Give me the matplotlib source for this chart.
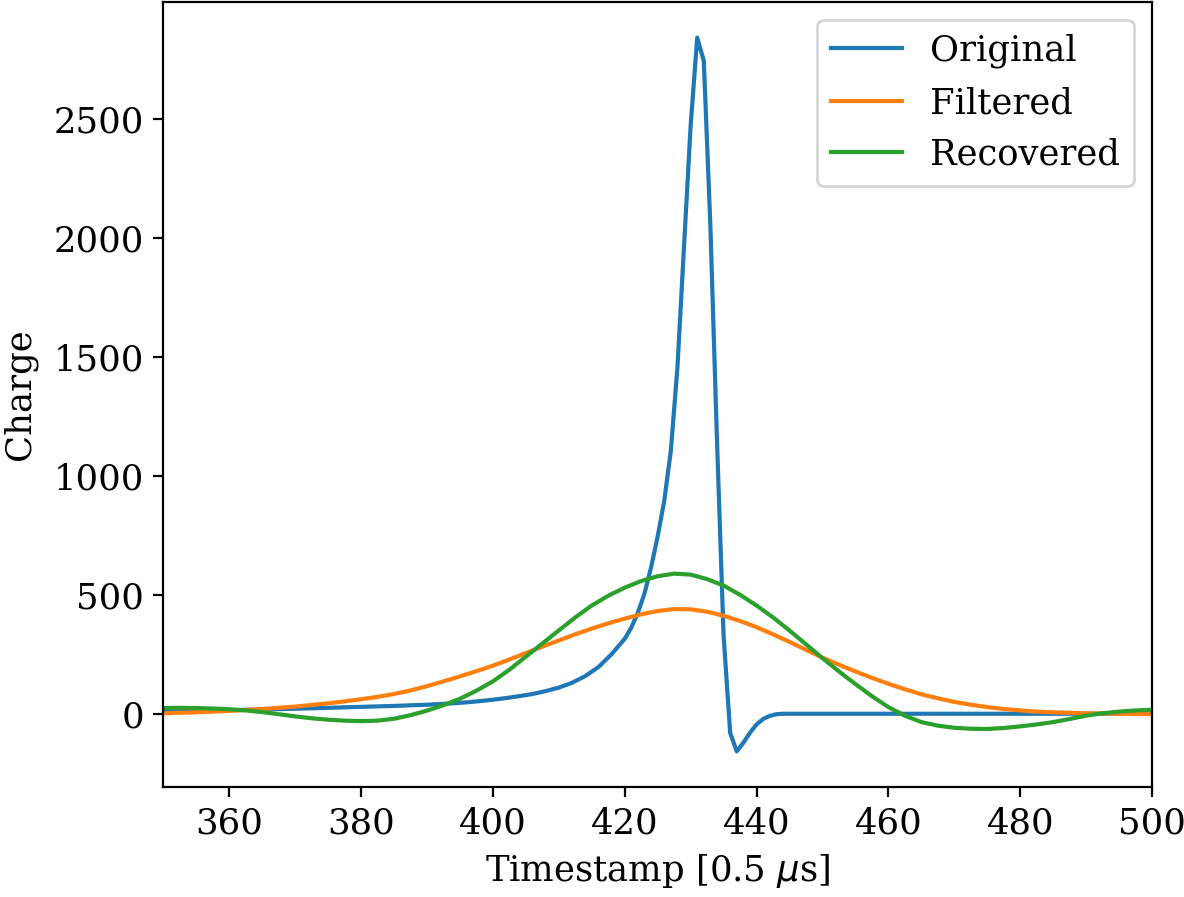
import matplotlib
matplotlib.use("Agg")
import matplotlib.pyplot as plt

plt.rcParams['font.family'] = ['DejaVu Serif']
plt.rcParams['font.size'] = 12.75

# Original waveform
orig_t = [350, 355, 360, 365, 370, 375, 380, 385, 390, 394, 396, 398, 400,
          402, 404, 406, 408, 410, 412, 414, 416, 418, 420, 421, 422, 423,
          424, 425, 426, 427, 428, 429, 430, 431, 432, 433, 434, 435, 436,
          437, 438, 439, 440, 441, 442, 443, 444, 445, 450, 460, 480, 500]
orig_q = [10, 12, 15, 18, 21, 25, 29, 33, 38, 44, 48, 53, 59,
          66, 74, 83, 95, 110, 130, 158, 196, 250, 315, 362, 425, 505,
          615, 745, 895, 1105, 1455, 1965, 2470, 2842, 2745, 2050, 1150, 330, -80,
          -158, -122, -80, -45, -22, -9, -2, 0, 0, 0, 0, 0, 0]

# Filtered waveform
filt_t = [350, 352.5, 355, 357.5, 360, 362.5, 365, 367.5, 370, 372.5, 375,
          377.5, 380, 382.5, 385, 387.5, 390, 392.5, 395, 397.5, 400, 402.5,
          405, 407.5, 410, 412.5, 415, 417.5, 420, 422.5, 425, 427.5, 430,
          432.5, 435, 437.5, 440, 442.5, 445, 447.5, 450, 452.5, 455, 457.5,
          460, 462.5, 465, 467.5, 470, 472.5, 475, 477.5, 480, 482.5, 485,
          487.5, 490, 492.5, 495, 497.5, 500]
filt_q = [2, 4, 6, 9, 12, 16, 20, 25, 30, 37, 44,
          52, 61, 71, 83, 98, 116, 136, 157, 179, 202, 228,
          255, 282, 308, 334, 358, 380, 400, 418, 432, 440, 439,
          429, 412, 390, 364, 334, 302, 269, 236, 206, 178, 151,
          126, 103, 82, 65, 50, 38, 28, 20, 14, 9, 6,
          4, 2, 1, 0, -1, -2]

# Recovered waveform
rec_t = [350, 352.5, 355, 357.5, 360, 362.5, 365, 367.5, 370, 372.5, 375,
         377.5, 380, 382.5, 385, 387.5, 390, 392.5, 395, 397.5, 400, 402.5,
         405, 407.5, 410, 412.5, 415, 417.5, 420, 422.5, 425, 427.5, 430,
         432.5, 435, 437.5, 440, 442.5, 445, 447.5, 450, 452.5, 455, 457.5,
         460, 462.5, 465, 467.5, 470, 472.5, 475, 477.5, 480, 482.5, 485,
         487.5, 490, 492.5, 495, 497.5, 500]
rec_q = [24, 25, 24, 22, 19, 14, 7, -2, -11, -19, -25,
         -29, -31, -29, -21, -6, 13, 36, 63, 97, 136, 185,
         240, 295, 350, 405, 455, 496, 530, 558, 578, 589, 585,
         566, 539, 500, 455, 405, 350, 292, 234, 178, 125, 74,
         28, -8, -35, -50, -59, -63, -64, -60, -53, -45, -35,
         -22, -8, 2, 9, 14, 17]

labels = ["Original", "Filtered", "Recovered"]

fig = plt.figure(figsize=(5.92, 4.485), dpi=200)
ax = fig.add_axes([0.1379, 0.1226, 0.9730 - 0.1379, 0.9978 - 0.1226])
ax.plot(orig_t, orig_q, label=labels[0])
ax.plot(filt_t, filt_q, label=labels[1])
ax.plot(rec_t, rec_q, label=labels[2])
ax.set_xlim(350, 500)
ax.set_xlabel(r"Timestamp [0.5 $\mu$s]")
ax.set_ylabel("Charge", labelpad=6)
ax.legend(loc="upper right")
fig.savefig("out.png", dpi=200)
